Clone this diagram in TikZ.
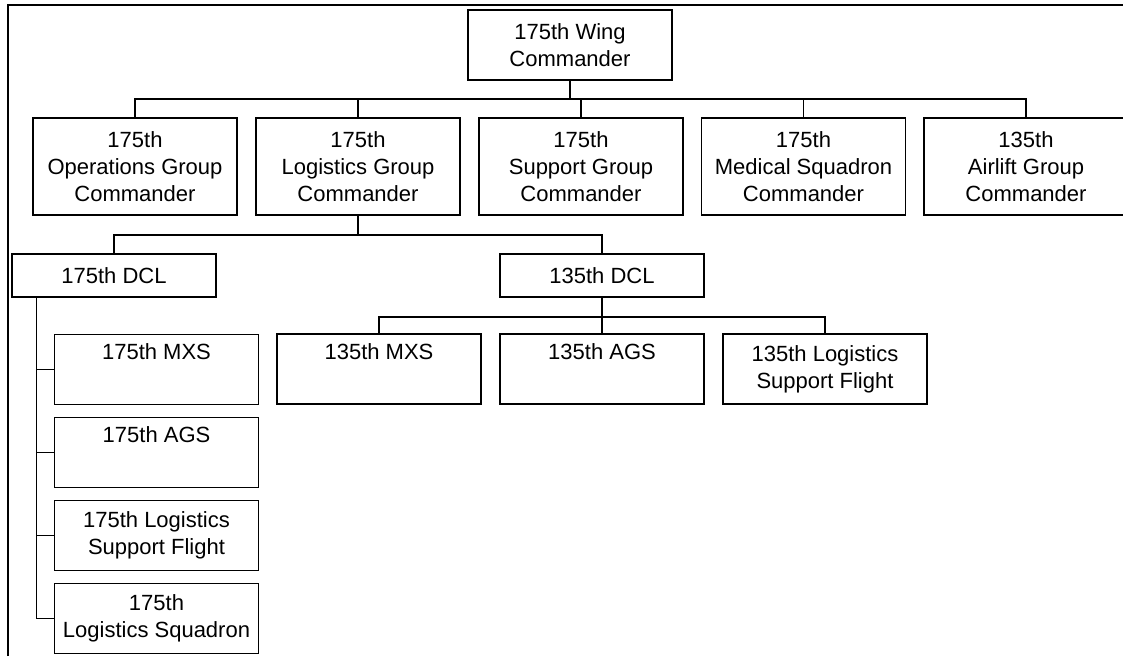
\documentclass[tikz,border=0pt]{standalone}
\usepackage{fontspec}
\setmainfont{Liberation Sans}
\usetikzlibrary{calc}

\begin{document}
\begin{tikzpicture}[x=0.75pt,y=-0.75pt,
    box/.style={draw, line width=0.9pt, align=center, inner sep=0pt,
        minimum width=153pt, font=\fontsize{16.5pt}{20.25pt}\selectfont},
    cmdbox/.style={box, minimum height=72.75pt},
    unitbox/.style={box, minimum height=52.5pt},
    dclbox/.style={box, minimum height=32.25pt},
    link/.style={line width=0.9pt}]
\useasboundingbox (0,0) rectangle (1123,656);
\clip (0,0) rectangle (1123,656);
% frame
\draw[line width=2pt] (8,656) -- (8,5) -- (1123,5);
%%%%%%%%%%%%%%%%%%%%%%%%%%%%%%%%%%%%%
\node[unitbox] (wing) at (570,45) {175th Wing\\Commander};
%
\node[cmdbox] (ops) at (135,166.5) {175th\\Operations Group\\Commander};
\node[cmdbox] (log) at (358,166.5) {175th\\Logistics Group\\Commander};
\node[cmdbox] (sup) at (581,166.5) {175th\\Support Group\\Commander};
\node[cmdbox] (med) at (803.5,166.5) {175th\\Medical Squadron\\Commander};
\node[cmdbox] (air) at (1026,166.5) {135th\\Airlift Group\\Commander};
%
\node[dclbox] (dcl175) at (114,275.5) {175th DCL};
\node[dclbox] (dcl135) at (602,275.5) {135th DCL};
%
\node[unitbox] (mxs135) at (379,369) {135th MXS\\\strut};
\node[unitbox] (ags135) at (602,369) {135th AGS\\\strut};
\node[unitbox] (lsf135) at (825,369) {135th Logistics\\Support Flight};
%
\node[unitbox] (mxs175) at (156.5,369.5) {175th MXS\\\strut};
\node[unitbox] (ags175) at (156.5,452.5) {175th AGS\\\strut};
\node[unitbox] (lsf175) at (156.5,535.5) {175th Logistics\\Support Flight};
\node[unitbox] (lsq175) at (156.5,618.5) {175th\\Logistics Squadron};
%%%%%%%%%%%%%%%%%%%%%%%%%%%%%%%%%%%%%
% wing to groups
\coordinate (topbus) at (570,99);
\draw[link] (wing.south) -- (wing.south |- topbus);
\draw[link] (ops.north) |- (air.north |- topbus) -- (air.north);
\foreach \n in {log,sup,med}
    \draw[link] (\n.north) -- (\n.north |- topbus);
% logistics group to DCLs
\coordinate (logbus) at (358,235);
\draw[link] (log.south) -- (log.south |- logbus);
\draw[link] (dcl175.north) |- (dcl135.north |- logbus) -- (dcl135.north);
% 135th DCL
\coordinate (bus135) at (602,317);
\draw[link] (dcl135.south) -- (dcl135.south |- bus135);
\draw[link] (mxs135.north) |- (lsf135.north |- bus135) -- (lsf135.north);
\draw[link] (ags135.north) -- (ags135.north |- bus135);
% 175th DCL
\coordinate (spine) at ([xshift=18.75pt]dcl175.south west);
\draw[link] (spine) |- (lsq175.west);
\foreach \n in {mxs175,ags175,lsf175}
    \draw[link] (\n.west) -- (\n.west -| spine);
\end{tikzpicture}
\end{document}
